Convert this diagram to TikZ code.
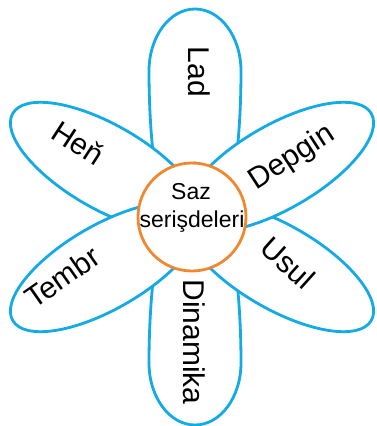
\documentclass[tikz,border=0pt]{standalone}
\usepackage{fontspec}
\setmainfont{Liberation Sans}
\definecolor{petalblue}{RGB}{20,170,228}
\definecolor{huborange}{RGB}{241,136,48}
\tikzset{
  petal/.style={draw=petalblue, fill=white, line width=2.8pt},
  petaltext/.style={font=\fontsize{30}{36}\selectfont, text=black, inner sep=0pt},
  hubtext/.style={font=\fontsize{23}{28}\selectfont, text=black, inner sep=0pt, anchor=base},
}
% long (vertical) petal: rounded outer end, long tapered inner end
\newcommand{\longpetal}{(208,0) arc[start angle=0, end angle=90, x radius=62, y radius=46]
  arc[start angle=90, end angle=270, x radius=200, y radius=46]
  arc[start angle=270, end angle=360, x radius=62, y radius=46] -- cycle}
% side petal: plain ellipse
\newcommand{\sidepetal}{(100,0) ellipse[x radius=107, y radius=42]}
\begin{document}
\begin{tikzpicture}[x=1pt,y=1pt]
\useasboundingbox (0,0) rectangle (376,426);
\coordinate (c) at (192,209);
\coordinate (cv) at (195,209);
% vertical petals
\begin{scope}[shift={(cv)}, rotate=90]
  \path[petal] \longpetal;
\end{scope}
\begin{scope}[shift={(cv)}, rotate=270]
  \path[petal] \longpetal;
\end{scope}
% side petals
\foreach \a in {150,-30,210,30}{
  \begin{scope}[shift={(c)}, rotate=\a]
    \path[petal] \sidepetal;
  \end{scope}
}
\node[circle, draw=huborange, fill=white, line width=2.8pt, minimum size=108pt, inner sep=0pt] (hub) at (c) {};
\node[hubtext] (saz) at (191,226) {Saz};
\node[hubtext] (ser) at (192,198) {serişdeleri};
\node[petaltext, rotate=-90] (lad) at (199,354) {Lad};
\node[petaltext, rotate=-90] (din) at (194,84) {Dinamika};
\node[petaltext, rotate=-33] (hen) at (78,283) {Heň};
\node[petaltext, rotate=33] (dep) at (292,268) {Depgin};
\node[petaltext, rotate=-42] (usul) at (288,163) {Usul};
\node[petaltext, rotate=35] (tembr) at (62,149) {Tembr};
\end{tikzpicture}
\end{document}
